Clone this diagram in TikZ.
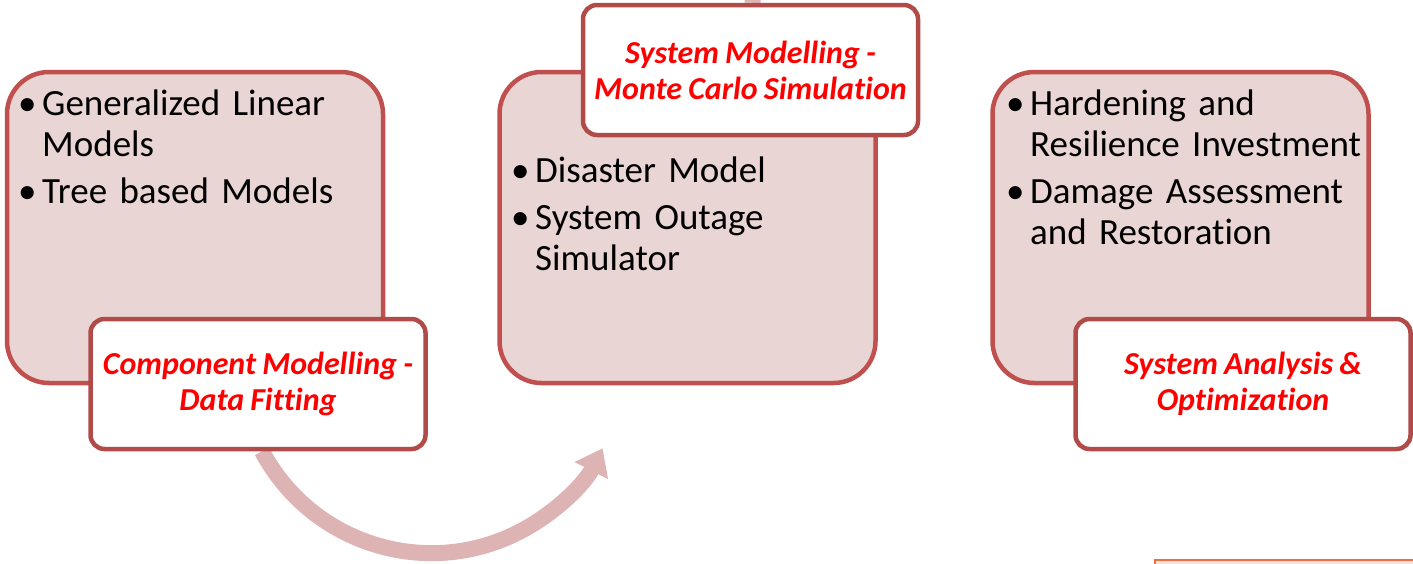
\documentclass[tikz,border=0pt]{standalone}
\usepackage{fontspec}
\setmainfont[Ligatures=NoCommon, WordSpace=0.85]{Carlito}
\usetikzlibrary{arrows.meta}
\pgfdeclarelayer{background}
\pgfsetlayers{background,main}
\definecolor{boxfill}{HTML}{EAD5D5}
\definecolor{boxline}{HTML}{C0504D}
\definecolor{tagline}{HTML}{B04B48}
\definecolor{flow}{HTML}{DDB3B3}
\definecolor{tagtext}{HTML}{FF0000}
\definecolor{notefill}{HTML}{FCE4D6}
\definecolor{noteline}{HTML}{F26B43}
% bullet item with the wrapped lines aligned to the text, not the bullet
\newcommand\bulitem[1]{\noindent\llap{\makebox[24pt][l]{•}}#1\par}
% ragged, unhyphenated list body
\newcommand\listbody{\raggedright\hyphenpenalty=10000\exhyphenpenalty=10000\setlength{\parskip}{6pt}}
\begin{document}
\begin{tikzpicture}[x=1pt,y=-1pt,
  bigbox/.style={draw=boxline, fill=boxfill, line width=4.5pt, rounded corners=42pt,
    minimum width=376pt, minimum height=311pt, inner sep=0pt},
  tagbox/.style={draw=tagline, fill=white, line width=4.5pt, rounded corners=14pt,
    minimum width=335pt, minimum height=130pt, align=center, inner sep=0pt,
    text=tagtext, font=\fontsize{32}{36}\selectfont\bfseries\itshape},
  itemtext/.style={anchor=north west, inner sep=0pt, text width=340pt,
    font=\fontsize{37}{41}\selectfont},
  flowarrow/.style={draw=flow, line width=16pt, -{Triangle[length=25pt,width=36pt]}},
  notebox/.style={draw=noteline, fill=notefill, line width=2pt, anchor=north west,
    minimum width=300pt, minimum height=40pt, inner sep=0pt}
]
\useasboundingbox (0,0) rectangle (1413,563);

% three stage panels
\node[bigbox] (b1) at (195,227.5) {};
\node[bigbox] (b2) at (687.5,227.5) {};
\node[bigbox] (b3) at (1180.5,227.5) {};

% bullet lists
\node[itemtext] (i1) at (42,90) {\listbody
  \bulitem{Generalized Linear Models}\bulitem{Tree based Models}};
\node[itemtext] (i2) at (535,157) {\listbody
  \bulitem{Disaster Model}\bulitem{System Outage Simulator}};
\node[itemtext] (i3) at (1030,90) {\listbody
  \bulitem{Hardening and Resilience Investment}\bulitem{Damage Assessment and Restoration}};

% stage titles
\node[tagbox] (t1) at (258,384) {Component Modelling -\\Data Fitting};
\node[tagbox] (t2) at (750.5,70) {System Modelling -\\Monte Carlo Simulation};
\node[tagbox] (t3) at (1243,384) {System Analysis \&\\Optimization};

% curved flow arrows behind the panels
\begin{pgfonlayer}{background}
  \draw[flowarrow] ([xshift=4pt]t1.south) arc[start angle=152, end angle=27, radius=192];
  \draw[flowarrow] ([xshift=2pt]t2.north) arc[start angle=180, end angle=352, radius=190];
\end{pgfonlayer}

% partly visible note box
\node[notebox] (note) at (1154,559) {};
\end{tikzpicture}
\end{document}
